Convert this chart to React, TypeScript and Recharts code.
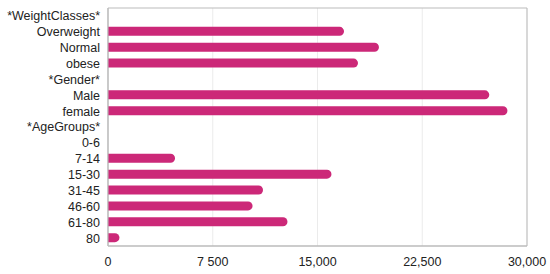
import { BarChart, Bar, XAxis, YAxis, CartesianGrid, ReferenceArea } from 'recharts'

const categories = [
  '*WeightClasses*', 'Overweight', 'Normal', 'obese',
  '*Gender*', 'Male', 'female',
  '*AgeGroups*', '0-6', '7-14', '15-30', '31-45', '46-60', '61-80', '80',
]
const counts = [
  0, 16900, 19400, 17900,
  0, 27300, 28600,
  0, 0, 4800, 16000, 11100, 10350, 12850, 820,
]
const xTicks = [0, 7500, 15000, 22500, 30000]
const xTickLabels = ['0', '7 500', '15,000', '22,500', '30,000']

const data = categories.map((name, i) => ({ name, value: counts[i] }))

const font = 'Helvetica, Arial, "Liberation Sans", sans-serif'

export default function App() {
  return (
    <div style={{ position: 'absolute', left: 0, top: 0, background: '#fff' }}>
      <BarChart
        width={550}
        height={274}
        data={data}
        layout="vertical"
        margin={{ top: 8, right: 23, bottom: 0, left: 0 }}
        barCategoryGap={0}
      >
        <CartesianGrid horizontal={false} stroke="#ebebeb" />
        <XAxis
          type="number"
          domain={[0, 30000]}
          ticks={xTicks}
          tickFormatter={(v: number) => xTickLabels[xTicks.indexOf(v)] ?? String(v)}
          axisLine={{ stroke: '#bbbbbb' }}
          tickLine={false}
          tickMargin={5}
          height={28}
          tick={{ fontSize: 12.5, fill: '#222', fontFamily: font }}
          interval={0}
        />
        <YAxis
          type="category"
          dataKey="name"
          width={108}
          axisLine={{ stroke: '#bbbbbb' }}
          tickLine={false}
          interval={0}
          tick={{ fontSize: 12.5, fill: '#222', fontFamily: font }}
        />
        <ReferenceArea x1={0} x2={30000} stroke="#bbbbbb" fill="none" fillOpacity={0} />
        <Bar
          dataKey="value"
          fill="#cc2878"
          barSize={9}
          radius={[0, 4.5, 4.5, 0]}
          isAnimationActive={false}
        />
      </BarChart>
    </div>
  )
}
